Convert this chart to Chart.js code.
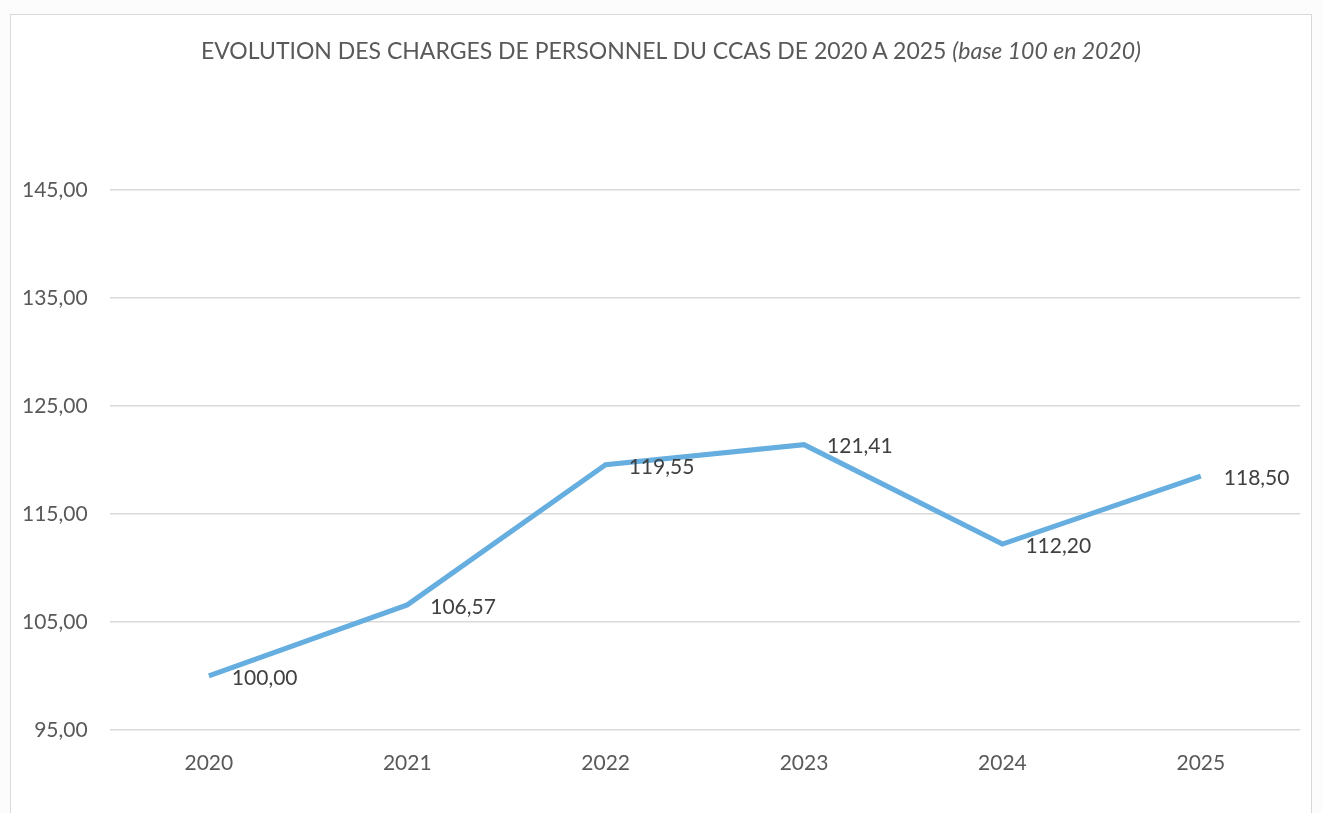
<!DOCTYPE html>
<html>
<head>
<meta charset="utf-8">
<script src="https://cdn.jsdelivr.net/npm/chart.js@4/dist/chart.umd.min.js"></script>
<style>
  html, body { margin: 0; padding: 0; background: #fcfcfc; overflow: hidden; }
  #frame {
    position: absolute; left: 10px; top: 14px; width: 1300px; height: 830px;
    border: 1px solid #d9d9d9; background: #ffffff;
  }
  #wrap { position: absolute; left: 0; top: 0; width: 1322px; height: 813px; }
  #title {
    position: absolute; left: 0; top: 35px; width: 1342px; text-align: center;
    font-family: Lato, "Liberation Sans", sans-serif; font-size: 23px; color: #595959;
    line-height: 30px; white-space: nowrap;
  }
  #title i { font-style: italic; }
</style>
</head>
<body>
<div id="frame"></div>
<div id="wrap"><canvas id="chargesChart"></canvas></div>
<div id="title">EVOLUTION DES CHARGES DE PERSONNEL DU CCAS DE 2020 A 2025 <i>(base 100 en 2020)</i></div>
<script>
// Evolution des charges de personnel du CCAS (base 100 en 2020)
const years = ['2020', '2021', '2022', '2023', '2024', '2025'];
const indexValues = [100.00, 106.57, 119.55, 121.41, 112.20, 118.50];
const yTicks = [95, 105, 115, 125, 135, 145];

const fmt = v => v.toFixed(2).replace('.', ',');
const FONT = 'Lato, "Liberation Sans", sans-serif';

// value labels to the right of each point (like Excel "droite")
const valueLabels = {
    id: 'valueLabels',
    afterDatasetsDraw(chart) {
        const ctx = chart.ctx;
        const meta = chart.getDatasetMeta(0);
        ctx.save();
        ctx.font = '21px ' + FONT;
        ctx.fillStyle = '#404040';
        ctx.textAlign = 'left';
        ctx.textBaseline = 'middle';
        meta.data.forEach((pt, i) => {
            ctx.fillText(fmt(indexValues[i]), pt.x + 23, pt.y + 2);
        });
        ctx.restore();
    }
};

const ctx = document.getElementById('chargesChart').getContext('2d');
new Chart(ctx, {
    type: 'line',
    data: {
        labels: years,
        datasets: [{
            data: indexValues,
            borderColor: '#65aedf',
            borderWidth: 5,
            pointRadius: 0,
            tension: 0,
            fill: false
        }]
    },
    options: {
        responsive: true,
        maintainAspectRatio: false,
        animation: false,
        layout: { padding: { left: 0, right: 22, top: 190, bottom: 16 } },
        plugins: {
            legend: { display: false },
            tooltip: { enabled: false }
        },
        scales: {
            x: {
                offset: true,
                grid: { display: false, drawTicks: false },
                border: { display: false },
                ticks: {
                    color: '#595959',
                    padding: 21,
                    font: { family: FONT, size: 21 }
                }
            },
            y: {
                min: 95,
                max: 145,
                afterBuildTicks: axis => { axis.ticks = yTicks.map(v => ({ value: v })); },
                grid: { color: '#d9d9d9', lineWidth: 1.5, drawTicks: false },
                border: { display: false },
                ticks: {
                    color: '#595959',
                    padding: 22,
                    callback: v => fmt(v),
                    font: { family: FONT, size: 21 }
                }
            }
        }
    },
    plugins: [valueLabels]
});
</script>
</body>
</html>
